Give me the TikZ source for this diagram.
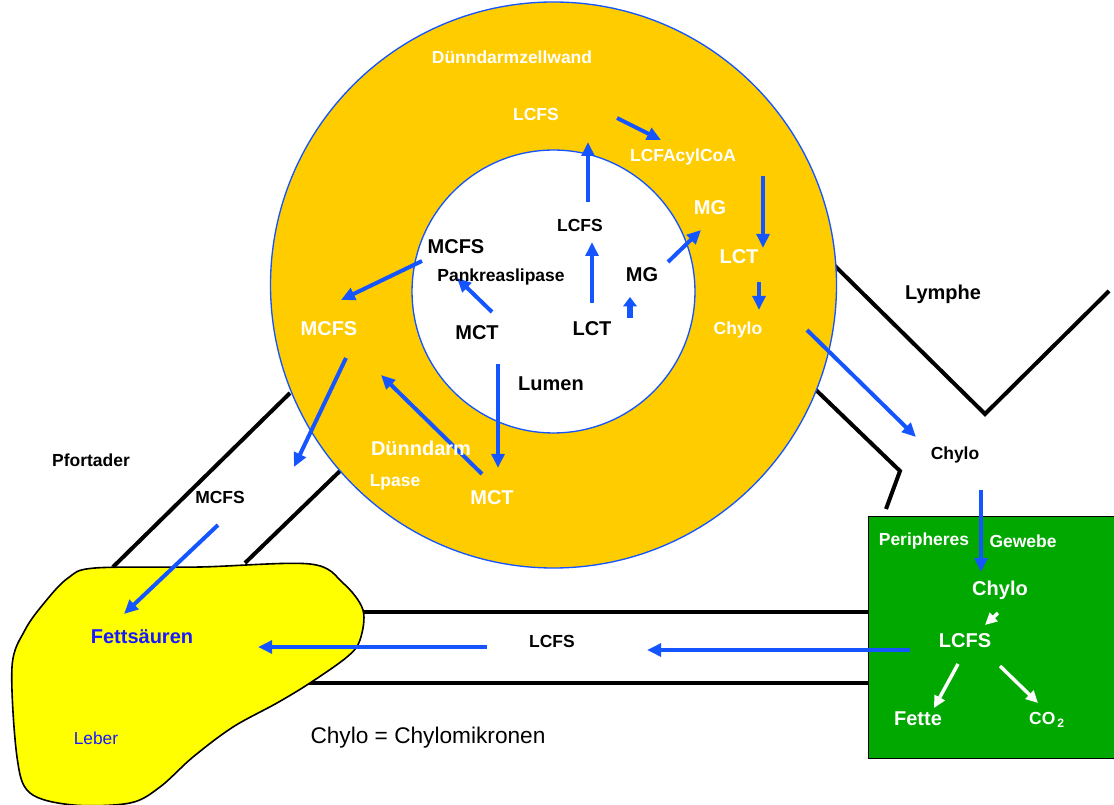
\documentclass[tikz,border=0pt]{standalone}
\usepackage{fontspec}
\setmainfont{Liberation Sans}
\usetikzlibrary{arrows.meta}
\definecolor{ringc}{RGB}{255,204,0}
\definecolor{arr}{RGB}{20,85,255}
\definecolor{liverc}{RGB}{255,255,0}
\definecolor{tissue}{RGB}{0,168,0}
\definecolor{fblue}{RGB}{25,25,255}
\tikzset{
  ar/.style={draw=arr, line width=3pt, -{Triangle[length=10.5pt,width=9.5pt]}},
  war/.style={draw=white, line width=2.6pt, -{Triangle[length=9pt,width=8.5pt]}},
  blk/.style={draw=black, line width=3pt},
  sl/.style={font=\fontsize{13.1}{15}\selectfont\bfseries, inner sep=0pt},
  ll/.style={font=\fontsize{15}{17}\selectfont\bfseries, inner sep=0pt},
  wt/.style={text=white},
}
\begin{document}
\begin{tikzpicture}[x=0.75pt,y=-0.75pt]
\useasboundingbox (0,0) rectangle (1114,805);
% --- vessel lines ---
\coordinate (pfa) at (113,567); \coordinate (pfb) at (290,393);
\coordinate (pfc) at (245,563); \coordinate (pfd) at (340,471);
\draw[blk] (pfa) -- (pfb);
\draw[blk] (pfc) -- (pfd);
\coordinate (ly1) at (834,265); \coordinate (ly2) at (985,414); \coordinate (ly3) at (1109,291);
\draw[blk, line join=miter] (ly1) -- (ly2) -- (ly3);
\coordinate (ly4) at (816,390); \coordinate (ly5) at (900,471); \coordinate (ly6) at (886,509);
\draw[blk, line join=miter] (ly4) -- (ly5) -- (ly6);
\coordinate (h1a) at (340,612); \coordinate (h1b) at (868,612);
\coordinate (h2a) at (300,683); \coordinate (h2b) at (868,683);
\draw[blk] (h1a) -- (h1b);
\draw[blk] (h2a) -- (h2b);
% --- ring ---
\fill[ringc] (553.5,285) circle[radius=212.25pt];
\draw[arr, line width=1pt] (553.5,285) circle[radius=212.25pt];
\fill[white] (553.5,291.5) circle[radius=106.1pt];
\draw[arr, line width=1pt] (553.5,291.5) circle[radius=106.1pt];
% --- liver ---
\draw[fill=liverc, line width=1.2pt] plot[smooth cycle, tension=0.55] coordinates {
 (95,568) (200,567) (310,564) (343,583) (363,610) (360,640) (347,657) (310,683)
 (277,703) (233,727) (193,757) (160,787) (130,803) (73,805) (30,793) (17,757)
 (12,667) (25,630) (45,602) (68,578)};
% --- green box ---
\node[draw=black, line width=1.2pt, fill=tissue, minimum width=246*0.75pt, minimum height=242*0.75pt, inner sep=0pt, anchor=north west] (box) at (867.5,515.5) {};
% --- blue arrows ---
\coordinate (a1s) at (617,118); \coordinate (a1e) at (661,140);
\draw[ar] (a1s) -- (a1e);
\coordinate (a2s) at (763,176); \coordinate (a2e) at (763,248);
\draw[ar] (a2s) -- (a2e);
\coordinate (a3s) at (759,282); \coordinate (a3e) at (759,310);
\draw[ar] (a3s) -- (a3e);
\coordinate (a4s) at (807,330); \coordinate (a4e) at (916,437);
\draw[ar] (a4s) -- (a4e);
\coordinate (a5s) at (981,490); \coordinate (a5e) at (981,572);
\draw[ar] (a5s) -- (a5e);
\coordinate (a6s) at (588,202); \coordinate (a6e) at (588,142);
\draw[ar] (a6s) -- (a6e);
\coordinate (a7s) at (592,303); \coordinate (a7e) at (592,242);
\draw[ar] (a7s) -- (a7e);
\coordinate (a8s) at (668,262); \coordinate (a8e) at (701,230);
\draw[ar] (a8s) -- (a8e);
\coordinate (a9s) at (630,318); \coordinate (a9e) at (630,297);
\draw[draw=arr, line width=4.5pt, -{Triangle[length=7pt,width=10pt]}] (a9s) -- (a9e);
\coordinate (b1s) at (492,312); \coordinate (b1e) at (457,278);
\draw[ar] (b1s) -- (b1e);
\coordinate (b2s) at (422,261); \coordinate (b2e) at (341,300);
\draw[ar] (b2s) -- (b2e);
\coordinate (b3s) at (346,358); \coordinate (b3e) at (294,467);
\draw[ar] (b3s) -- (b3e);
\coordinate (b4s) at (498,364); \coordinate (b4e) at (498,468);
\draw[ar] (b4s) -- (b4e);
\coordinate (b5s) at (482,474); \coordinate (b5e) at (381,375);
\draw[ar] (b5s) -- (b5e);
\coordinate (b6s) at (218,525); \coordinate (b6e) at (124,614);
\draw[ar] (b6s) -- (b6e);
\coordinate (b7s) at (487,647); \coordinate (b7e) at (258,647);
\draw[ar] (b7s) -- (b7e);
\coordinate (b8s) at (910,650); \coordinate (b8e) at (647,650);
\draw[ar] (b8s) -- (b8e);
% --- white arrows ---
\coordinate (w1s) at (998,613); \coordinate (w1e) at (985,625);
\draw[war] (w1s) -- (w1e);
\coordinate (w2s) at (958,664); \coordinate (w2e) at (934,708);
\draw[war] (w2s) -- (w2e);
\coordinate (w3s) at (1000,666); \coordinate (w3e) at (1038,703);
\draw[war] (w3s) -- (w3e);
% --- texts ---
\node[sl,wt] (dzw) at (512,57) {Dünndarmzellwand};
\node[sl,wt] (lcfsR) at (536,114) {LCFS};
\node[sl,wt] (acyl) at (683,157) {LCFAcylCoA};
\node[ll,wt] (mgR) at (710,208) {MG};
\node[ll,wt] (lctR) at (739,257) {LCT};
\node[sl,wt] (chyR) at (738,330) {Chylo};
\node[sl] (lcfsI) at (580,225) {LCFS};
\node[ll] (mcfsI) at (456,247) {MCFS};
\node[sl] (pank) at (501,277) {Pankreaslipase};
\node[ll] (mgI) at (642,275) {MG};
\node[ll] (mctI) at (477,333) {MCT};
\node[ll] (lctI) at (592,329) {LCT};
\node[ll] (lumen) at (551,384) {Lumen};
\node[ll,wt] (mcfsR) at (329,329) {MCFS};
\node[ll,wt] (dd) at (421,448) {Dünndarm};
\node[sl,wt] (lpase) at (395,482) {Lpase};
\node[ll,wt] (mctR) at (492,498) {MCT};
\node[ll] (lymphe) at (943,294) {Lymphe};
\node[sl] (chyL) at (955,455) {Chylo};
\node[sl] (pfort) at (91,460) {Pfortader};
\node[sl] (mcfsP) at (220,497) {MCFS};
\node[sl] (lcfsB) at (552,641) {LCFS};
\node[ll,text=fblue] (fetts) at (142,637) {Fettsäuren};
\node[inner sep=0pt, font=\fontsize{13}{15}\selectfont, text=fblue] (leber) at (96,738) {Leber};
\node[inner sep=0pt, font=\fontsize{17}{20}\selectfont] (legend) at (428,738) {Chylo = Chylomikronen};
\node[sl,wt] (peri) at (924,541) {Peripheres};
\node[sl,wt] (gew) at (1023,541) {Gewebe};
\node[ll,wt] (chyG) at (1000,590) {Chylo};
\node[ll,wt] (lcfsG) at (965,641) {LCFS};
\node[ll,wt] (fette) at (918,719) {Fette};
\node[sl,wt] (co2) at (1047,720) {CO\textsubscript{\,2}};
\end{tikzpicture}
\end{document}
